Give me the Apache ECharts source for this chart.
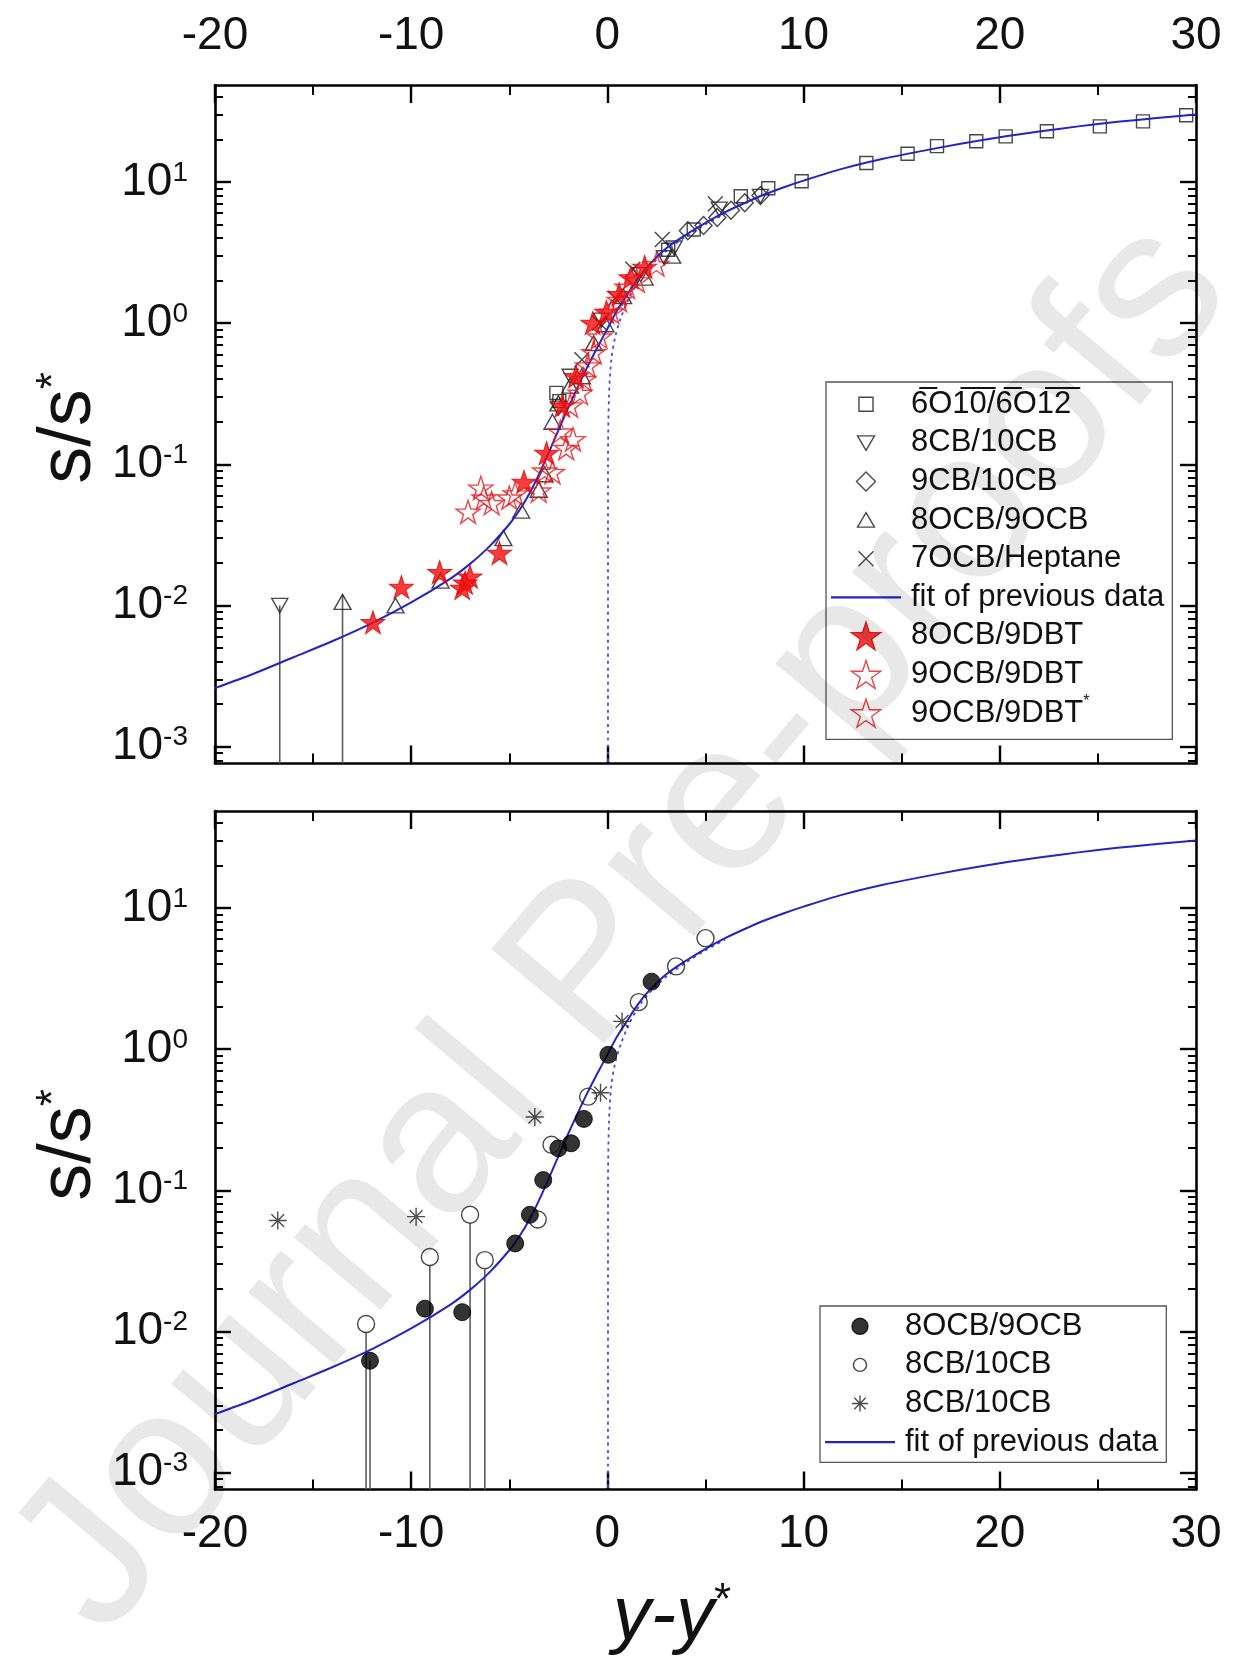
<!DOCTYPE html>
<html>
<head>
<meta charset="utf-8">
<script src="https://cdn.jsdelivr.net/npm/echarts@6/dist/echarts.min.js"></script>
<style>
html, body { margin: 0; padding: 0; background: #fff; }
#chart { width: 1233px; height: 1662px; }
</style>
</head>
<body>
<div id="chart"></div>
<script>
// ---------------- data ----------------
const xTickValues = [-20, -10, 0, 10, 20, 30];
const yMajorTicks = [0.001, 0.01, 0.1, 1, 10];
const yMinorTicks = [0.0008, 0.0009, 0.002, 0.003, 0.004, 0.005, 0.006, 0.007, 0.008, 0.009,
  0.02, 0.03, 0.04, 0.05, 0.06, 0.07, 0.08, 0.09, 0.2, 0.3, 0.4, 0.5, 0.6, 0.7, 0.8, 0.9,
  2, 3, 4, 5, 6, 7, 8, 9, 20, 30, 40];

// fit of previous data (solid blue curve)
const fitX = [-20, -18, -16, -14, -12, -10, -8, -7, -6, -5, -4.5, -4, -3.5, -3, -2.5, -2, -1.5, -1, -0.5,
  0, 0.5, 1, 1.5, 2, 3, 4, 5, 6, 7, 8, 9, 10, 12, 14, 16, 18, 20, 22, 24, 26, 28, 30];
const fitY = [0.0026, 0.0033, 0.0043, 0.0056, 0.0075, 0.0105, 0.0155, 0.0197, 0.0263, 0.0376, 0.0468,
  0.061, 0.084, 0.120, 0.174, 0.251, 0.355, 0.495, 0.676, 0.912, 1.23, 1.58, 2.02, 2.48, 3.39, 4.22,
  5.13, 6.10, 7.08, 8.13, 9.16, 10.2, 12.4, 14.5, 16.5, 18.6, 20.7, 22.7, 24.7, 26.6, 28.3, 30.0];

// dotted blue asymptote
const asymX = [0.03, 0.03, 0.08, 0.2, 0.4, 0.7, 1.1, 1.6, 2.2, 3.0, 4.0, 5.0, 6.0];
const asymY = [0.0007, 0.1, 0.3, 0.55, 0.8, 1.1, 1.5, 2.0, 2.55, 3.25, 4.1, 5.0, 5.95];

// upper panel
const sq6O10 = [[29.5, 29.6], [27.3, 26.8], [25.1, 24.7], [22.4, 22.8], [20.3, 21.0], [18.8, 19.4],
  [16.8, 17.9], [15.3, 15.8], [13.2, 13.6], [9.9, 10.1], [8.2, 9.0], [6.8, 7.9], [4.4, 4.6],
  [3.1, 3.3], [-2.6, 0.32], [-2.45, 0.28]];
const cb8cb10Top = [[-16.7, 0.0100], [-2.5, 0.25], [-1.9, 0.42], [-0.3, 1.05], [1.7, 2.2], [2.9, 2.9],
  [3.4, 3.4], [5.7, 6.4], [7.8, 7.9]];
const cb9cb10 = [[4.1, 4.5], [4.9, 4.9], [5.6, 5.6], [6.3, 6.3], [7.0, 7.1], [7.8, 8.0]];
const ocb8ocb9Top = [[-13.5, 0.0106], [-10.8, 0.0100], [-8.5, 0.0150], [-5.3, 0.030], [-4.4, 0.047],
  [-3.5, 0.066], [-3.2, 0.085], [-2.8, 0.20], [-2.5, 0.27], [-1.9, 0.36], [-1.3, 0.42], [-0.7, 0.72],
  [-0.1, 0.98], [0.8, 1.55], [1.9, 2.1], [3.3, 3.0]];
const ocb7hep = [[5.5, 7.0], [2.8, 3.9], [1.3, 2.4], [0.4, 1.5], [-0.4, 1.0], [-1.3, 0.55]];
const ocb8dbt9 = [[-11.95, 0.0076], [-10.5, 0.0135], [-8.55, 0.0172], [-7.4, 0.0133], [-7.0, 0.0160],
  [-7.25, 0.0145], [-5.5, 0.0235], [-4.25, 0.075], [-3.1, 0.120], [-2.3, 0.26], [-1.6, 0.42],
  [-0.75, 1.0], [-0.05, 1.2], [0.6, 1.6], [1.2, 2.1], [1.9, 2.5]];
const ocb9dbt9 = [[-7.1, 0.046], [-5.9, 0.053], [-5.0, 0.058], [-3.5, 0.065], [-2.8, 0.088], [-2.1, 0.13],
  [-1.75, 0.15], [-1.4, 0.32], [-1.0, 0.50], [-0.4, 0.80], [0.6, 1.45], [1.5, 2.0], [2.5, 2.6]];
const ocb9dbt9b = [[-6.45, 0.068], [-6.3, 0.058], [-4.7, 0.062], [-3.2, 0.09], [-2.4, 0.17], [-1.9, 0.26],
  [-1.2, 0.40], [-0.7, 0.62], [0.2, 1.2], [1.0, 1.8]];

// lower panel
const ocb8ocb9Bot = [[-12.1, 0.0062], [-9.3, 0.0145], [-7.4, 0.0137], [-4.7, 0.042], [-3.95, 0.067],
  [-3.27, 0.118], [-2.5, 0.198], [-1.85, 0.215], [-1.2, 0.32], [0.05, 0.91], [2.25, 3.0]];
const cb8cb10Open = [[-12.3, 0.0113], [-9.05, 0.0337], [-7.0, 0.067], [-6.25, 0.032], [-3.55, 0.062],
  [-2.85, 0.21], [-0.98, 0.46], [1.6, 2.15], [3.5, 3.85], [5.0, 6.1]];
const cb8cb10Star = [[-16.8, 0.061], [-9.75, 0.065], [-3.7, 0.33], [-0.35, 0.49], [0.75, 1.57]];

// points drawn with a drop line to the lower axis
const dropTopTri = [cb8cb10Top[0]];
const dropTopUp = [ocb8ocb9Top[0]];
const dropBotOpen = [cb8cb10Open[0], cb8cb10Open[1], cb8cb10Open[2], cb8cb10Open[3]];
const dropBotFilled = [ocb8ocb9Bot[0]];

// ---------------- styling ----------------
const FONT = '"Liberation Sans", Arial, Helvetica, sans-serif';
const Y_MIN = 7.6e-4, Y_MAX = 48.5;
const BLUE = '#2323c8';
const ZW = '\u200B';

const STAR = 'path://M50,0L61.23,34.55L97.55,34.55L68.17,55.9L79.39,90.45L50,69.1L20.61,90.45L31.83,55.9L2.45,34.55L38.77,34.55Z';
const DOWN_TRI = 'path://M0,0L20,0L10,17.3Z';
const UP_TRI = 'path://M10,0L20,17.3L0,17.3Z';
const CROSS = 'path://M0,0L20,20M20,0L0,20';
const ASTER = 'path://M10,0L10,20M0,10L20,10M2.93,2.93L17.07,17.07M17.07,2.93L2.93,17.07';

// legend icons with padding so that they keep their relative size
const ICON_SQ = 'path://M0,0M28,28M7,7L21,7L21,21L7,21Z';
const ICON_DOWN = 'path://M0,0M28,28M5.5,7L22.5,7L14,21.5Z';
const ICON_DIA = 'path://M0,0M28,28M14,4.5L23.5,14L14,23.5L4.5,14Z';
const ICON_UP = 'path://M0,0M28,28M14,6.5L22.5,21L5.5,21Z';
const ICON_CROSS = 'path://M0,0M28,28M6.5,6.5L21.5,21.5M21.5,6.5L6.5,21.5';
const ICON_DOT = 'path://M0,0M28,28M14,6A8,8,0,1,1,13.99,6Z';
const ICON_RING = 'path://M0,0M28,28M14,7.5A6.5,6.5,0,1,1,13.99,7.5Z';
const ICON_ASTER = 'path://M0,0M28,28M14,6L14,22M6,14L22,14M8.3,8.3L19.7,19.7M19.7,8.3L8.3,19.7';
const ICON_LINE = 'path://M0,0L70,0L70,2.2L0,2.2Z';

const openBlack = { color: 'rgba(255,255,255,0)', borderColor: '#1a1a1a', borderWidth: 1.4 };
const openRed = { color: 'rgba(255,255,255,0)', borderColor: '#e8141c', borderWidth: 1.4 };
const fillRed = { color: '#f20d0d', borderColor: '#e00000', borderWidth: 1 };

const pairs = (xs, ys) => xs.map((x, i) => [x, ys[i]]);

function xAxisDef(gridIndex, position, showLabel, margin) {
  return {
    type: 'value', gridIndex, position, min: -20, max: 30, interval: 10,
    axisLine: { show: true, onZero: false, lineStyle: { color: '#000', width: 2.6 } },
    axisTick: { show: true, inside: true, length: 18, lineStyle: { color: '#000', width: 2.4 } },
    minorTick: { show: true, splitNumber: 2, length: 10, lineStyle: { color: '#000', width: 2 } },
    splitLine: { show: false }, minorSplitLine: { show: false },
    axisLabel: { show: showLabel, margin, fontSize: 46, fontFamily: FONT, color: '#111' }
  };
}

function yAxisDef(gridIndex, position, minor, showLabel) {
  return {
    type: 'log', logBase: 10, gridIndex, position, min: Y_MIN, max: Y_MAX,
    axisLine: { show: !minor, onZero: false, lineStyle: { color: '#000', width: 2.6 } },
    axisTick: {
      show: true, inside: true, length: minor ? 8 : 16,
      lineStyle: { color: '#000', width: minor ? 2 : 2.4 },
      customValues: minor ? yMinorTicks : yMajorTicks
    },
    minorTick: { show: false }, splitLine: { show: false },
    axisLabel: {
      show: showLabel, customValues: yMajorTicks, margin: 27,
      formatter: v => '{b|10}{s|' + Math.round(Math.log10(v)) + '}',
      rich: {
        b: { fontSize: 46, fontFamily: FONT, color: '#111', lineHeight: 46 },
        s: { fontSize: 28, fontFamily: FONT, color: '#111', verticalAlign: 'top', lineHeight: 28, padding: [0, 0, 14, 0] }
      }
    }
  };
}

function scatter(name, xi, yi, data, symbol, size, style, z) {
  return { type: 'scatter', name, xAxisIndex: xi, yAxisIndex: yi, data, symbol, symbolSize: size,
    itemStyle: style, z: z || 3, clip: true, silent: true };
}

function curve(name, xi, yi, data, lineStyle, smooth, z) {
  return { type: 'line', name, xAxisIndex: xi, yAxisIndex: yi, data, showSymbol: false, symbol: 'none',
    smooth, lineStyle, itemStyle: { color: lineStyle.color }, clip: true, silent: true, z: z || 2 };
}

function drops(xi, yi, pts, gap) {
  return {
    type: 'custom', xAxisIndex: xi, yAxisIndex: yi, data: pts, silent: true, z: 1,
    renderItem(params, api) {
      const p = api.coord([api.value(0), api.value(1)]);
      const cs = params.coordSys;
      return { type: 'line', shape: { x1: p[0], y1: p[1] + gap, x2: p[0], y2: cs.y + cs.height },
        style: { stroke: '#5c5c5c', lineWidth: 1.6 } };
    }
  };
}

const fitLine = { color: BLUE, width: 2 };
const asymLine = { color: '#4a4ae6', width: 1.8, type: [3, 4] };

const legendText = {
  fontSize: 31, fontFamily: FONT, color: '#111', lineHeight: 38.6, padding: [0, 0, 0, 5],
  rich: { sup: { fontSize: 16, fontFamily: FONT, verticalAlign: 'top', padding: [0, 0, 14, 0] } }
};
const legendFormatter = name => {
  const n = name.replace(/\u200B/g, '');
  if (n === '6O10/6O12') return '6\u0305O1\u03050\u0305/6\u0305O1\u03052\u0305';
  if (n === '9OCB/9DBT*') return '9OCB/9DBT{sup|*}';
  return n;
};
const lineLegendItem = name => ({ name, icon: ICON_LINE, itemStyle: { color: BLUE, borderWidth: 0 } });

const titleSup = { fontSize: 44, fontFamily: FONT, fill: '#111', verticalAlign: 'top', padding: [0, 0, 30, 0] };

const option = {
  animation: false,
  backgroundColor: '#fff',
  grid: [
    { left: 215, top: 85, width: 981, height: 678.5 },
    { left: 215, top: 811, width: 981, height: 678.5 }
  ],
  xAxis: [
    xAxisDef(0, 'bottom', false, 0),
    xAxisDef(0, 'top', true, 26),
    xAxisDef(1, 'bottom', true, 22),
    xAxisDef(1, 'top', false, 0)
  ],
  yAxis: [
    yAxisDef(0, 'left', false, true),
    yAxisDef(0, 'left', true, false),
    yAxisDef(0, 'right', false, false),
    yAxisDef(0, 'right', true, false),
    yAxisDef(1, 'left', false, true),
    yAxisDef(1, 'left', true, false),
    yAxisDef(1, 'right', false, false),
    yAxisDef(1, 'right', true, false)
  ],
  legend: [
    {
      orient: 'vertical', left: 826, top: 382, padding: [3, 8, 7, 5],
      itemWidth: 70, itemHeight: 28, itemGap: 0, selectedMode: false,
      borderColor: '#555', borderWidth: 1.3, backgroundColor: '#fff',
      itemStyle: { borderWidth: 1.4 },
      textStyle: legendText, formatter: legendFormatter,
      data: [
        { name: '6O10/6O12', icon: ICON_SQ },
        { name: '8CB/10CB', icon: ICON_DOWN },
        { name: '9CB/10CB', icon: ICON_DIA },
        { name: '8OCB/9OCB', icon: ICON_UP },
        { name: '7OCB/Heptane', icon: ICON_CROSS },
        lineLegendItem('fit of previous data'),
        { name: '8OCB/9DBT', icon: STAR },
        { name: '9OCB/9DBT', icon: STAR },
        { name: '9OCB/9DBT*', icon: STAR }
      ]
    },
    {
      orient: 'vertical', left: 820, top: 1306, padding: [1, 8, 1, 5],
      itemWidth: 70, itemHeight: 28, itemGap: 0, selectedMode: false,
      borderColor: '#555', borderWidth: 1.3, backgroundColor: '#fff',
      itemStyle: { borderWidth: 1.4 },
      textStyle: legendText, formatter: legendFormatter,
      data: [
        { name: '8OCB/9OCB' + ZW, icon: ICON_DOT },
        { name: '8CB/10CB' + ZW, icon: ICON_RING },
        { name: '8CB/10CB' + ZW + ZW, icon: ICON_ASTER },
        lineLegendItem('fit of previous data' + ZW)
      ]
    }
  ],
  graphic: [
    {
      type: 'text', x: 70, y: 428, rotation: Math.PI / 2, silent: true,
      style: { text: 's/s{sup|*}', fontSize: 74, fontFamily: FONT, fill: '#111',
        align: 'center', verticalAlign: 'middle', textAlign: 'center', textVerticalAlign: 'middle',
        rich: { sup: titleSup } }
    },
    {
      type: 'text', x: 70, y: 1145, rotation: Math.PI / 2, silent: true,
      style: { text: 's/s{sup|*}', fontSize: 74, fontFamily: FONT, fill: '#111',
        align: 'center', verticalAlign: 'middle', textAlign: 'center', textVerticalAlign: 'middle',
        rich: { sup: titleSup } }
    },
    {
      type: 'text', x: 672, y: 1618, silent: true,
      style: { text: 'y-y{sup|*}', fontSize: 76, fontStyle: 'italic', fontFamily: FONT, fill: '#111',
        align: 'center', verticalAlign: 'middle', textAlign: 'center', textVerticalAlign: 'middle',
        rich: { sup: titleSup } }
    },
    // translucent diagonal stamp laid over the whole figure
    {
      type: 'text', x: 624, y: 928, rotation: 50 * Math.PI / 180, z: 100, silent: true,
      style: { text: 'Journal Pre-proofs', fontSize: 214, fontFamily: FONT, fill: 'rgba(0,0,0,0.092)',
        align: 'center', verticalAlign: 'middle', textAlign: 'center', textVerticalAlign: 'middle' }
    }
  ],
  series: [
    // upper panel
    drops(0, 0, dropTopTri, 0),
    drops(0, 0, dropTopUp, -7),
    curve('asymTop', 0, 0, pairs(asymX, asymY), asymLine, 0.3, 2),
    scatter('6O10/6O12', 0, 0, sq6O10, 'rect', 13, openBlack),
    scatter('8CB/10CB', 0, 0, cb8cb10Top, DOWN_TRI, [16, 14], openBlack),
    scatter('9CB/10CB', 0, 0, cb9cb10, 'diamond', [17, 18], openBlack),
    scatter('8OCB/9OCB', 0, 0, ocb8ocb9Top, UP_TRI, [17, 15], openBlack),
    scatter('7OCB/Heptane', 0, 0, ocb7hep, CROSS, [15, 15], openBlack),
    curve('fit of previous data', 0, 0, pairs(fitX, fitY), fitLine, 0.3, 4),
    scatter('8OCB/9DBT', 0, 0, ocb8dbt9, STAR, [24, 23], fillRed, 5),
    scatter('9OCB/9DBT', 0, 0, ocb9dbt9, STAR, [24, 23], openRed, 5),
    scatter('9OCB/9DBT*', 0, 0, ocb9dbt9b, STAR, [24, 23], openRed, 5),

    // lower panel
    drops(2, 4, dropBotOpen, 8.5),
    drops(2, 4, dropBotFilled, 0),
    curve('asymBottom', 2, 4, pairs(asymX, asymY), asymLine, 0.3, 2),
    curve('fit of previous data' + ZW, 2, 4, pairs(fitX, fitY), fitLine, 0.3, 4),
    scatter('8OCB/9OCB' + ZW, 2, 4, ocb8ocb9Bot, 'circle', 17, { color: '#000', borderColor: '#000', borderWidth: 1 }, 5),
    scatter('8CB/10CB' + ZW, 2, 4, cb8cb10Open, 'circle', 17, openBlack, 5),
    scatter('8CB/10CB' + ZW + ZW, 2, 4, cb8cb10Star, ASTER, [18, 18], { color: 'rgba(0,0,0,0)', borderColor: '#222', borderWidth: 1.4 }, 5)
  ]
};

const chart = echarts.init(document.getElementById('chart'), null, { renderer: 'canvas' });
chart.setOption(option);
</script>
</body>
</html>
